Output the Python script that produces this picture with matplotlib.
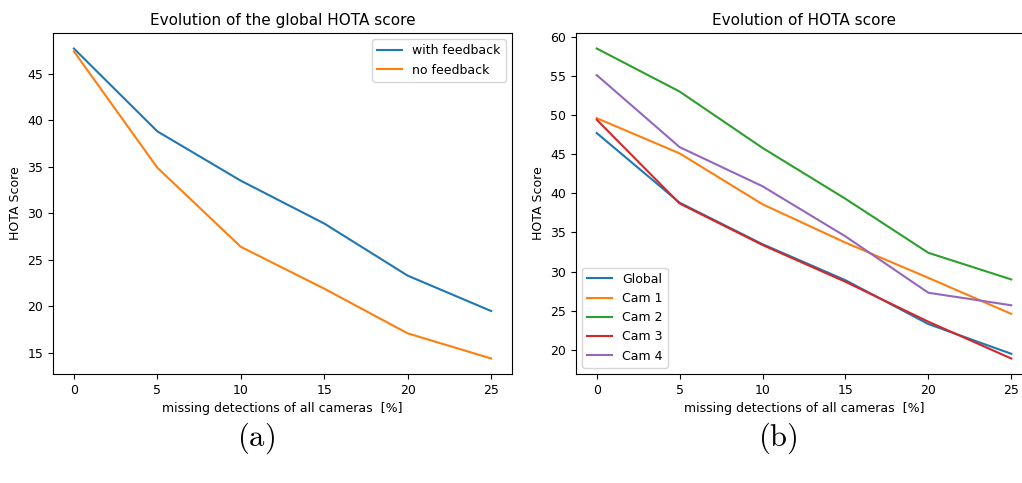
import matplotlib
matplotlib.use("Agg")
import matplotlib.pyplot as plt

plt.rcParams['mathtext.fontset'] = 'cm'

missing = [0, 5, 10, 15, 20, 25]

# (a) global HOTA
with_feedback = [47.7, 38.8, 33.5, 28.9, 23.3, 19.5]
no_feedback = [47.4, 34.9, 26.4, 21.9, 17.1, 14.4]

# (b) per camera
cams = {
    "Global": [47.7, 38.8, 33.5, 28.9, 23.3, 19.5],
    "Cam 1": [49.6, 45.1, 38.6, 33.7, 29.2, 24.6],
    "Cam 2": [58.5, 53.0, 45.8, 39.3, 32.4, 29.0],
    "Cam 3": [49.4, 38.7, 33.4, 28.7, 23.6, 18.9],
    "Cam 4": [55.1, 45.9, 40.9, 34.5, 27.3, 25.7],
}

xlabel = "missing detections of all cameras  [%]"

fig = plt.figure(figsize=(10.22, 4.83), dpi=100)
W, H = 1022, 483

ax1 = fig.add_axes([53 / W, 1 - 374 / H, (512 - 53) / W, (374 - 33) / H])
ax1.plot(missing, with_feedback, label="with feedback")
ax1.plot(missing, no_feedback, label="no feedback")
ax1.set_title("Evolution of the global HOTA score", fontsize=11)
ax1.set_xlabel(xlabel, fontsize=9)
ax1.set_ylabel("HOTA Score", fontsize=9)
ax1.tick_params(labelsize=9)
ax1.legend(loc="upper right", fontsize=9)

ax2 = fig.add_axes([576 / W, 1 - 374 / H, (1032 - 576) / W, (374 - 33) / H])
for name, vals in cams.items():
    ax2.plot(missing, vals, label=name)
ax2.set_title("Evolution of HOTA score", fontsize=11)
ax2.set_xlabel(xlabel, fontsize=9)
ax2.set_ylabel("HOTA Score", fontsize=9)
ax2.tick_params(labelsize=9)
ax2.legend(loc="lower left", fontsize=9)

fig.text(256 / W, 1 - 438 / H, r"$\mathrm{(a)}$", fontsize=22, ha="center", va="center")
fig.text(778 / W, 1 - 438 / H, r"$\mathrm{(b)}$", fontsize=22, ha="center", va="center")

fig.savefig("out.png", dpi=100)
